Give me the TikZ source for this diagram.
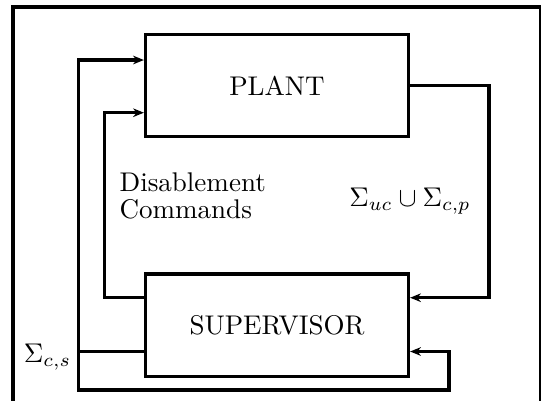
\documentclass[tikz,border=0pt]{standalone}
\usepackage[]{amsmath}
\usepackage[]{amssymb}
\usepackage{tikz}
\usetikzlibrary{arrows.meta}

\tikzset{block/.style={draw,rectangle,minimum width=97.3pt,minimum height=38pt,inner sep=0pt}}

\begin{document}
\begin{tikzpicture}[x=0.37pt,y=-0.37pt,very thick,>={Stealth[length=4pt,width=3.2pt,inset=1.3pt]}]
  \useasboundingbox (0,0) rectangle (541,400);
  \clip (0,0) rectangle (541,400);
  %frame
  \draw (13,7) rectangle (541,410);

  \node[block] (plant) at (277,85.5) {PLANT};
  \node[block] (sup) at (277,325.3) {SUPERVISOR};

  \coordinate (d1) at (104.5,297.7);
  \coordinate (d2) at (104.5,112.7);
  \coordinate (s1) at (78.5,351.5);
  \coordinate (s2) at (78.5,60);
  \coordinate (s3) at (78.5,390);
  \coordinate (s4) at (449,390);
  \coordinate (p1) at (489,297.7);

  \node[align=left,anchor=west] (dis) at (109,196) {Disablement\\[-2pt]Commands};
  \node (ev) at (410,201) {$\Sigma_{uc}\cup\Sigma_{c,p}$};
  \node (cs) at (47.5,357) {$\Sigma_{c,s}$};

  \draw[->] (sup.west |- d1) -- (d1) -- (d2) -- (plant.west |- d2);
  \draw[->] (sup.west |- s1) -- (s1) -- (s2) -- (plant.west |- s2);
  \draw[->] (s1) -- (s3) -- (s4) |- (sup.east |- s1);
  \draw[->] (plant.east) -| (p1) -- (sup.east |- p1);
\end{tikzpicture}
\end{document}
